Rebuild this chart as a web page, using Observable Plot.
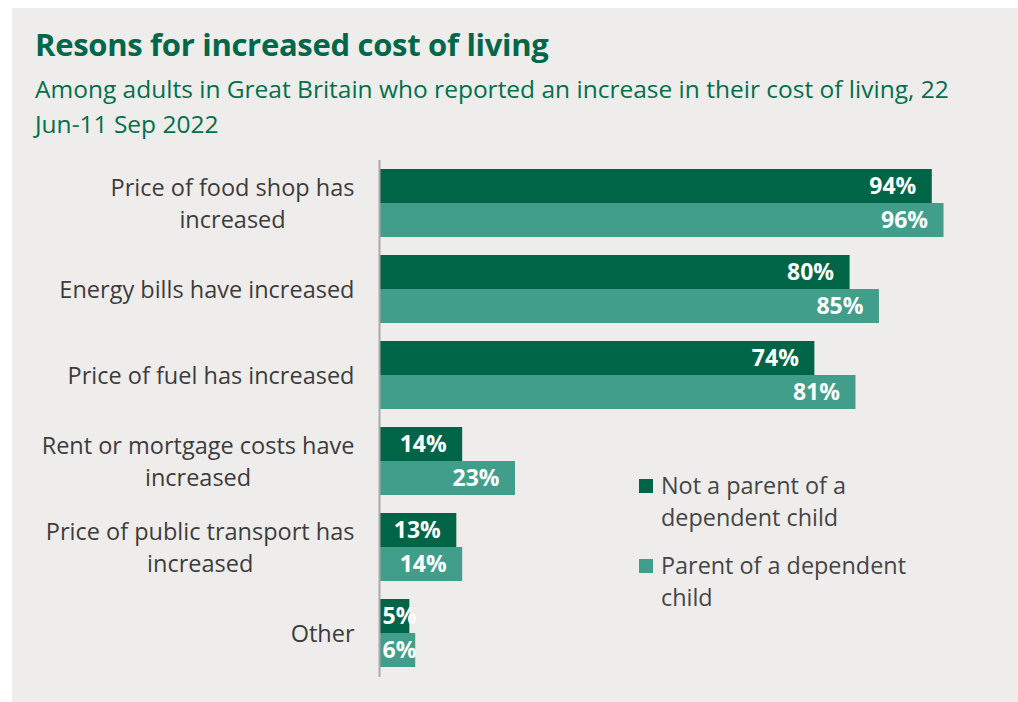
<!DOCTYPE html>
<html>
<head>
<meta charset="utf-8">
<script src="https://cdn.jsdelivr.net/npm/d3@7"></script>
<script src="https://cdn.jsdelivr.net/npm/@observablehq/plot@0.6"></script>
<style>
  html, body { margin: 0; padding: 0; background: #ffffff; }
  body { width: 1018px; height: 702px; position: relative; overflow: hidden; font-family: "Open Sans", sans-serif; }
  #panel { position: absolute; left: 12px; top: 8px; width: 1006px; height: 694px; background: #EFEDEB; }
  #title { position: absolute; left: 35px; top: 24px; font-family: "Open Sans", sans-serif; font-weight: 700; font-size: 31px; color: #00674a; white-space: nowrap; line-height: 40px; letter-spacing: -0.3px; }
  #subtitle { position: absolute; left: 35px; top: 71px; font-family: "Open Sans", sans-serif; font-size: 24.5px; color: #00704c; line-height: 35px; white-space: nowrap; }
  #chart { position: absolute; left: 0; top: 150px; }
  #legend { position: absolute; left: 639px; top: 469px; font-family: "Open Sans", sans-serif; font-size: 23.4px; color: #454545; line-height: 32px; }
  .item { position: relative; padding-left: 22px; margin-bottom: 16px; }
  .sw { position: absolute; left: 0; top: 10px; width: 14px; height: 14px; }
</style>
</head>
<body>
<div id="panel"></div>
<div id="title">Resons for increased cost of living</div>
<div id="subtitle">Among adults in Great Britain who reported an increase in their cost of living, 22<br>Jun-11 Sep 2022</div>
<div id="chart"></div>
<div id="legend"></div>
<script>
const categories = [
  "Price of food shop has increased",
  "Energy bills have increased",
  "Price of fuel has increased",
  "Rent or mortgage costs have increased",
  "Price of public transport has increased",
  "Other"
];
const categoryLabels = [
  "Price of food shop has\nincreased",
  "Energy bills have increased",
  "Price of fuel has increased",
  "Rent or mortgage costs have\nincreased",
  "Price of public transport has\nincreased",
  "Other"
];
const seriesNames = ["Not a parent of a\ndependent child", "Parent of a dependent\nchild"];
const notParent = [94, 80, 74, 14, 13, 5];
const parent = [96, 85, 81, 23, 14, 6];
const colors = ["#006446", "#409e8a"];

const rows = [];
categories.forEach((c, i) => {
  rows.push({category: c, series: 0, value: notParent[i]});
  rows.push({category: c, series: 1, value: parent[i]});
});
const dark = rows.filter(d => d.series === 0);
const light = rows.filter(d => d.series === 1);

const labelFont = {fontFamily: "Open Sans", fontWeight: 700, fontSize: 23, fill: "white"};

function valueLabels(data, dy) {
  return [
    Plot.text(data.filter(d => d.value >= 10), {x: "value", y: "category", text: d => d.value + "%", textAnchor: "end", dx: -16, dy, ...labelFont}),
    Plot.text(data.filter(d => d.value < 10), {x: 0, y: "category", text: d => d.value + "%", textAnchor: "start", dx: 2, dy, ...labelFont})
  ];
}

// Category labels: block right-aligned at the axis gap, lines centred within the block
const catFontSize = 23.5;
const ctx = document.createElement("canvas").getContext("2d");
ctx.font = `${catFontSize}px "Open Sans"`;
const blockWidth = categoryLabels.map(l => Math.max(...l.split("\n").map(s => ctx.measureText(s).width)));

const width = 1018, marginLeft = 380, marginRight = 51;
const pxPerUnit = (width - marginLeft - marginRight) / 100;
const labelGap = 26;

const chart = Plot.plot({
  width,
  height: 532,
  marginLeft,
  marginRight,
  marginTop: 10,
  marginBottom: 5,
  style: {background: "transparent", overflow: "visible"},
  x: {domain: [0, 100], axis: null},
  y: {domain: categories, paddingInner: 0.2093, paddingOuter: 0.11, axis: null},
  marks: [
    Plot.barX(dark, {x: "value", y: "category", fill: colors[0], insetBottom: 34}),
    Plot.barX(light, {x: "value", y: "category", fill: colors[1], insetTop: 34}),
    Plot.ruleX([0], {stroke: "#aaaaaa", strokeWidth: 2, dx: -1}),
    ...valueLabels(dark, -17),
    ...valueLabels(light, 17),
    Plot.text(categories, {
      y: d => d,
      x: (d, i) => -(labelGap + blockWidth[i] / 2) / pxPerUnit,
      text: (d, i) => categoryLabels[i],
      textAnchor: "middle",
      dy: -2,
      lineHeight: 32 / catFontSize,
      fontFamily: "Open Sans",
      fontSize: catFontSize,
      fill: "#3c3c3c"
    })
  ]
});
document.getElementById("chart").appendChild(chart);

const legend = document.getElementById("legend");
seriesNames.forEach((name, i) => {
  const item = document.createElement("div");
  item.className = "item";
  const sw = document.createElement("span");
  sw.className = "sw";
  sw.style.background = colors[i];
  item.appendChild(sw);
  name.split("\n").forEach((line, j) => {
    if (j > 0) item.appendChild(document.createElement("br"));
    item.appendChild(document.createTextNode(line));
  });
  legend.appendChild(item);
});
</script>
</body>
</html>
